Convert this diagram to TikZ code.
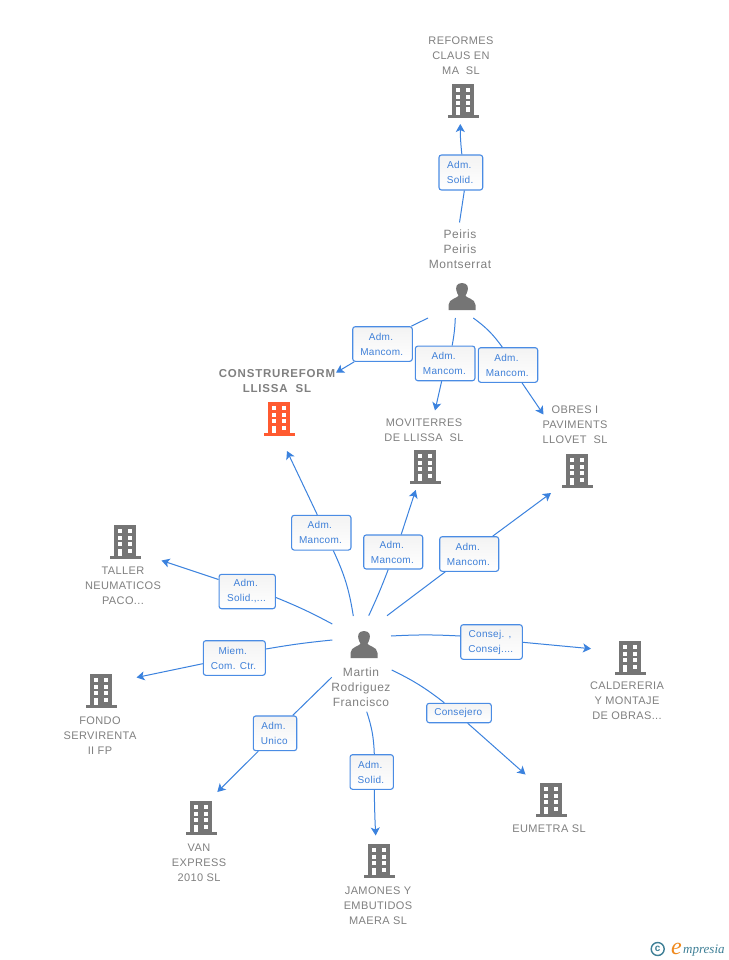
\documentclass[tikz,border=0pt]{standalone}
\usepackage{fontspec}
\setmainfont{Liberation Sans}
\newfontfamily\logofont{Liberation Serif}
\usetikzlibrary{arrows.meta}
\definecolor{edgeblue}{HTML}{3B82DE}
\definecolor{boxblue}{HTML}{4A8CE4}
\definecolor{labelblue}{HTML}{3F80D8}
\definecolor{txtgray}{HTML}{808080}
\definecolor{iconfill}{HTML}{757575}
\definecolor{mainorange}{HTML}{FF5A30}
\definecolor{logoteal}{HTML}{3E7F96}
\definecolor{logoorange}{HTML}{F08A1E}
\definecolor{boxtop}{HTML}{F3F3F3}
\newcommand{\aft}{\hspace*{3pt}}
\newcommand{\bft}{\hspace*{1.5pt}}
\tikzset{
  x=1pt,y=-1pt,
  linkline/.style={draw=edgeblue,line width=1pt},
  arrowlink/.style={linkline,-{Stealth[length=8pt,width=9pt,inset=2pt]}},
  labbx/.style={draw=boxblue,line width=1.1pt,rounded corners=2.5pt,top color=boxtop,bottom color=white,text=labelblue,
    font=\fontsize{10}{15}\selectfont\addfontfeature{LetterSpace=3},align=center,inner sep=0pt},
  entity/.style={text=txtgray,font=\fontsize{11}{15}\selectfont\addfontfeature{LetterSpace=3.5},align=center,inner sep=0pt},
  mainentity/.style={entity,font=\fontsize{11.5}{15}\selectfont\bfseries\addfontfeature{LetterSpace=7}},
  personname/.style={entity,font=\fontsize{12}{15}\selectfont\addfontfeature{LetterSpace=4.5}},
  pics/bld/.style={code={
    \fill[#1] (-11,-17) rectangle (11,14);
    \fill[#1] (-15.5,14) rectangle (15.5,17);
    \foreach \yy in {-12.7,-6.3,0}{
      \fill[white] (-7.4,\yy) rectangle (-2.7,\yy+4);
      \fill[white] (2.5,\yy) rectangle (7.2,\yy+4);
    }
    \fill[white] (-7,6.5) rectangle (-2.7,14);
    \fill[white] (2.5,6.5) rectangle (7.2,11);
  }},
  pics/psn/.style={code={
    \fill[iconfill] (0,-14) .. controls (-6,-14) and (-6.5,-9) .. (-5.5,-6)
      .. controls (-5,-3.5) and (-4,-2.5) .. (-3.5,-1.5)
      .. controls (-3.5,1) and (-13.5,1.5) .. (-13.5,8) -- (-13.5,13) -- (13.5,13) -- (13.5,8)
      .. controls (13.5,1.5) and (3.5,1) .. (3.5,-1.5)
      .. controls (4,-2.5) and (5,-3.5) .. (5.5,-6)
      .. controls (6.5,-9) and (6,-14) .. (0,-14) -- cycle;
  }}
}
\newcommand{\labbox}[6]{\node[labbx,minimum width=#4pt,minimum height=#5pt] (#1) at (#2,#3) {#6};}
\begin{document}
\begin{tikzpicture}
\useasboundingbox (0,0) rectangle (728,960);
\fill[white] (0,0) rectangle (728,960);

% buildings
\pic at (463,101) {bld=iconfill};
\pic at (279,419) {bld=mainorange};
\pic at (425,467) {bld=iconfill};
\pic at (577,471) {bld=iconfill};
\pic at (125,542) {bld=iconfill};
\pic at (101,691) {bld=iconfill};
\pic at (201,818) {bld=iconfill};
\pic at (379,861) {bld=iconfill};
\pic at (551,800) {bld=iconfill};
\pic at (630,658) {bld=iconfill};
% people
\pic at (462,297) {psn};
\pic at (364,645) {psn};

% names
\node[entity] (nReformes) at (461,56) {REFORMES\\CLAUS EN\\MA\ \ SL};
\node[mainentity] (nConstrure) at (277,381) {CONSTRUREFORM\\LLISSA\ \ SL};
\node[entity] (nMoviterres) at (424,430) {MOVITERRES\\DE LLISSA\ \ SL};
\node[entity] (nObres) at (575,425) {OBRES I\\PAVIMENTS\\LLOVET\ \ SL};
\node[entity] (nTaller) at (123,586) {TALLER\\NEUMATICOS\\PACO...};
\node[entity] (nFondo) at (100,736) {FONDO\\SERVIRENTA\\II FP};
\node[entity] (nVan) at (199,863) {VAN\\EXPRESS\\2010 SL};
\node[entity] (nJamones) at (378,906) {JAMONES Y\\EMBUTIDOS\\MAERA SL};
\node[entity] (nEumetra) at (549,829) {EUMETRA SL};
\node[entity] (nCalder) at (627,701) {CALDERERIA\\Y MONTAJE\\DE OBRAS...};
\node[personname] (nPeiris) at (460,249) {Peiris\\Peiris\\Montserrat};
\node[personname] (nMartin) at (361,687) {Martin\\Rodriguez\\Francisco};

% connector ends
\coordinate (p0) at (459.5,222.5);
\coordinate (p1) at (428,318);
\coordinate (p2) at (455.3,318);
\coordinate (p3) at (473.3,318);
\coordinate (m1) at (353.3,616);
\coordinate (m2) at (368.7,615.7);
\coordinate (m3) at (387,615.7);
\coordinate (m4) at (332.3,624);
\coordinate (m5) at (332.3,640);
\coordinate (m6) at (331.7,677.3);
\coordinate (m7) at (366.7,711.7);
\coordinate (m8) at (391.7,670);
\coordinate (m9) at (391,636);
\coordinate (e0) at (460.3,124);
\coordinate (e1) at (336,372.7);
\coordinate (e2) at (435,410.5);
\coordinate (e3) at (543.5,414.5);
\coordinate (e4) at (287,451);
\coordinate (e5) at (415.7,490);
\coordinate (e6) at (551,493);
\coordinate (e7) at (161.5,560.5);
\coordinate (e8) at (136.5,677.5);
\coordinate (e9) at (217.3,792);
\coordinate (e10) at (375.7,835.5);
\coordinate (e11) at (525.5,774.5);
\coordinate (e12) at (591,648.7);

% labels
\labbox{l0}{460.85}{172.5}{43.7}{35}{Adm.\aft\\Solid.\bft}
\labbox{l1}{382.5}{344}{59.6}{34.6}{Adm.\aft\\Mancom.\bft}
\labbox{l2}{445.15}{363.4}{59.6}{34.6}{Adm.\aft\\Mancom.\bft}
\labbox{l3}{508}{365}{59.4}{34.6}{Adm.\aft\\Mancom.\bft}
\labbox{l4}{321.3}{532.7}{59.3}{34.7}{Adm.\aft\\Mancom.\bft}
\labbox{l5}{393.2}{552}{59}{34}{Adm.\aft\\Mancom.\bft}
\labbox{l6}{469.2}{554}{59}{34.6}{Adm.\aft\\Mancom.\bft}
\labbox{l7}{247.2}{591.5}{56.3}{34.4}{Adm.\aft\\Solid.,...\bft}
\labbox{l8}{234.3}{658}{62}{34.6}{Miem.\aft\\Com. Ctr.\bft}
\labbox{l9}{275}{733.3}{43.4}{34.7}{Adm.\aft\\Unico\bft}
\labbox{l10}{371.7}{772}{43.3}{34.6}{Adm.\aft\\Solid.\bft}
\labbox{l11}{459}{713}{64.6}{19.4}{Consejero\bft}
\labbox{l12}{491.5}{642}{61.6}{34.6}{Consej. ,\aft\\Consej....\bft}

% connectors
\draw[linkline] (p0) -- ([xshift=3.5pt]l0.south);
\draw[arrowlink] ([xshift=1pt]l0.north) to[bend left=3] (e0);
\draw[linkline] (p1) -- ([xshift=-1.5pt]l1.north east);
\draw[arrowlink] ([xshift=2pt]l1.south west) -- (e1);
\draw[linkline] (p2) to[bend left=4] ([xshift=7pt]l2.north);
\draw[arrowlink] ([xshift=-3.5pt]l2.south) -- (e2);
\draw[linkline] (p3) to[bend left=9] ([xshift=-5.7pt]l3.north);
\draw[arrowlink] ([xshift=14pt]l3.south) -- (e3);
\draw[linkline] (m1) to[bend right=8] ([xshift=12pt]l4.south);
\draw[arrowlink] ([xshift=-4pt]l4.north) -- (e4);
\draw[linkline] (m2) to[bend right=2] ([xshift=-5pt]l5.south);
\draw[arrowlink] ([xshift=8pt]l5.north) -- (e5);
\draw[linkline] (m3) -- ([xshift=-24pt]l6.south);
\draw[arrowlink] ([xshift=23.5pt]l6.north) -- (e6);
\draw[linkline] (m4) to[bend right=3] ([yshift=-6pt]l7.east);
\draw[arrowlink] ([yshift=12pt]l7.west) -- (e7);
\draw[linkline] (m5) to[bend right=2] ([yshift=9pt]l8.east);
\draw[arrowlink] ([yshift=-5.7pt]l8.west) -- (e8);
\draw[linkline] (m6) -- ([xshift=17.7pt]l9.north);
\draw[arrowlink] ([xshift=-16.7pt]l9.south) -- (e9);
\draw[linkline] (m7) to[bend left=8] ([xshift=2.6pt]l10.north);
\draw[arrowlink] ([xshift=2.6pt]l10.south) to[bend right=1] (e10);
\draw[linkline] (m8) to[bend left=6] ([xshift=-14.7pt]l11.north);
\draw[arrowlink] ([xshift=8.7pt]l11.south) -- (e11);
\draw[linkline] (m9) to[bend left=3] ([yshift=6pt]l12.west);
\draw[arrowlink] ([yshift=-0.3pt]l12.east) -- (e12);

% logo
\node[circle,draw=logoteal,line width=1.4pt,minimum size=13pt,inner sep=0pt,text=logoteal,font=\fontsize{10}{10}\selectfont\bfseries] (cr) at (657.7,949) {c};
\node[inner sep=0pt,anchor=base west,text=logoorange,font=\logofont\fontsize{24}{24}\selectfont\itshape] (logoE) at (671,954) {e};
\node[inner sep=0pt,anchor=base west,text=logoteal,font=\logofont\fontsize{13}{13}\selectfont\itshape] (logoT) at (683,953) {mpresia};
\end{tikzpicture}
\end{document}
